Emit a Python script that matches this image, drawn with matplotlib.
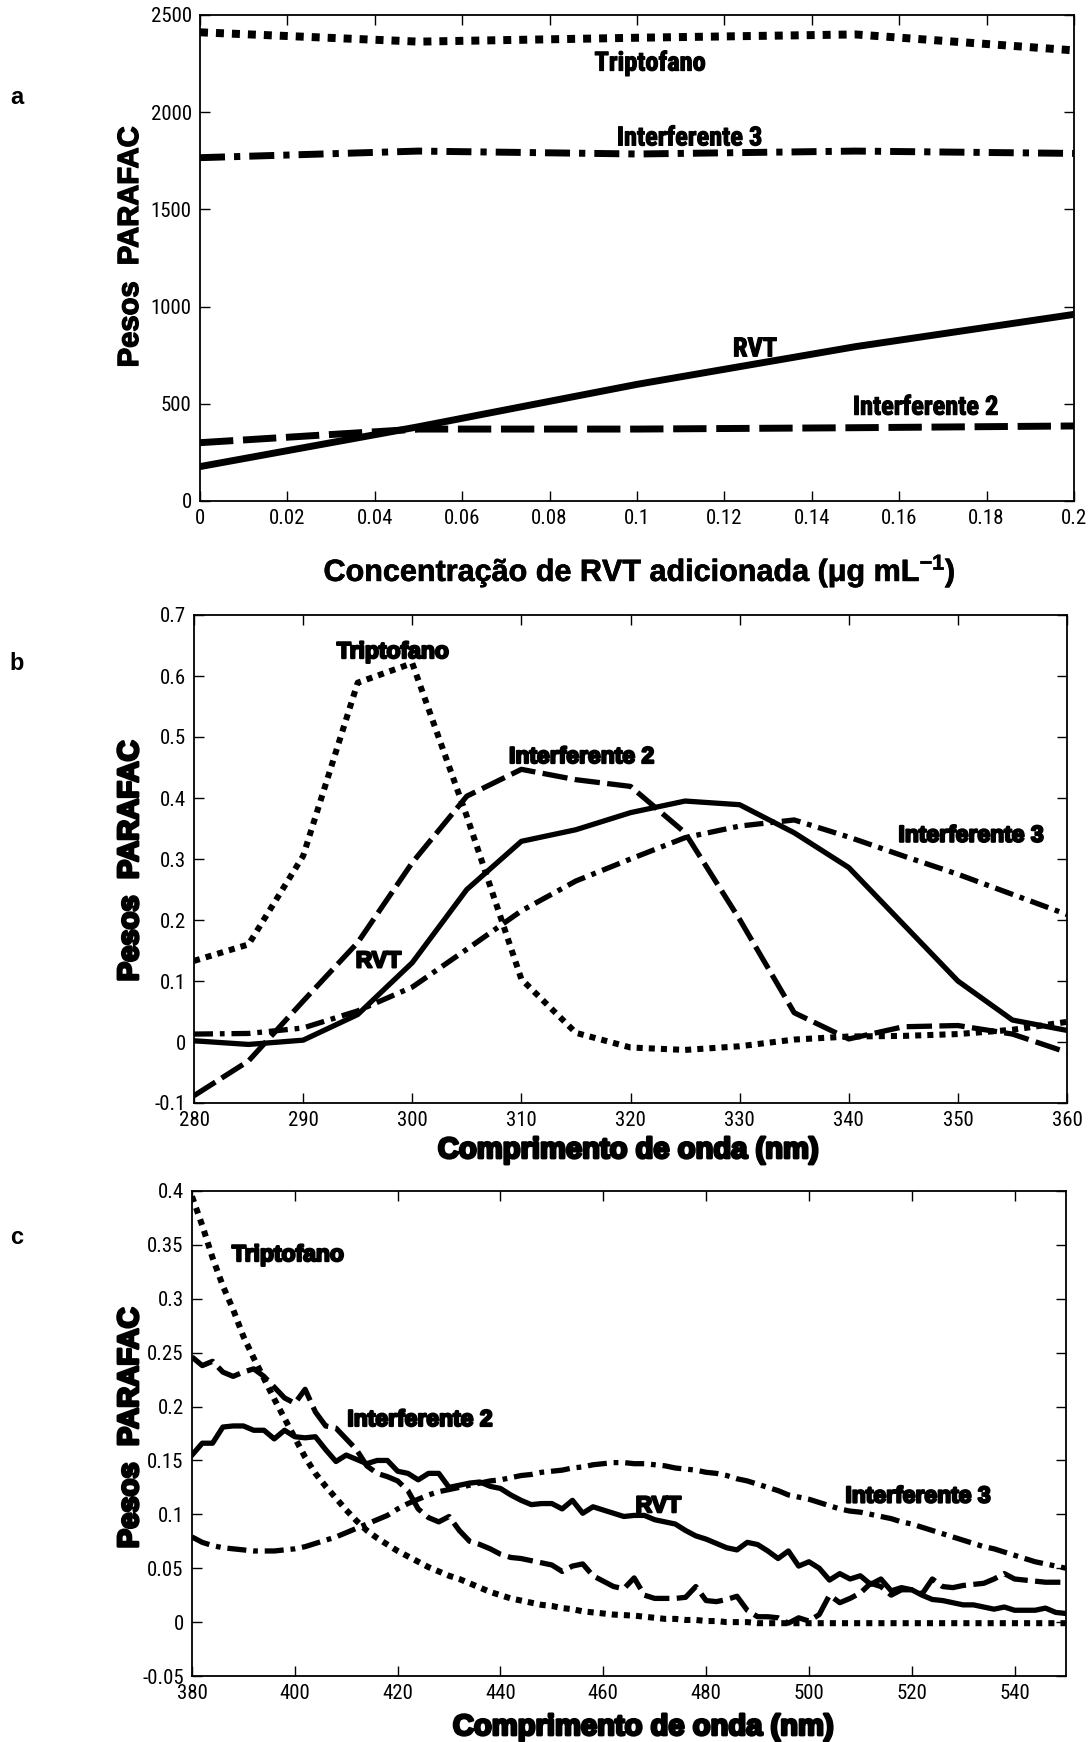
import matplotlib
matplotlib.use('Agg')
import matplotlib.pyplot as plt
import matplotlib.patheffects as pe
from matplotlib import font_manager
from matplotlib.font_manager import FontProperties
from matplotlib.ticker import FuncFormatter, MultipleLocator


def pick(fams):
    for f in fams:
        try:
            font_manager.findfont(FontProperties(family=f), fallback_to_default=False)
            return f
        except Exception:
            pass
    return 'DejaVu Sans'


narrow = pick(['Liberation Sans Narrow', 'Roboto Condensed', 'Liberation Sans'])
arial = pick(['Liberation Sans', 'DejaVu Sans'])

plt.rcParams['axes.unicode_minus'] = False
plt.rcParams['mathtext.fontset'] = 'custom'
plt.rcParams['mathtext.rm'] = arial + ':bold'
plt.rcParams['mathtext.it'] = arial + ':bold'
plt.rcParams['mathtext.bf'] = arial + ':bold'

# panel a: PARAFAC weights vs added RVT concentration
conc = [0, 0.05, 0.10, 0.15, 0.20]
a_tript = [2411, 2363, 2383, 2400, 2318]
a_int3 = [1766, 1800, 1785, 1800, 1788]
a_rvt = [177, 382, 600, 794, 960]
a_int2 = [300, 370, 370, 377, 386]

# panel b: excitation loadings
wl_ex = [280, 285, 290, 295, 300, 305, 310, 315, 320, 325, 330, 335, 340,
         345, 350, 355, 360]
b_tript = [0.133, 0.160, 0.305, 0.589, 0.621, 0.370, 0.103, 0.015, -0.009,
           -0.013, -0.007, 0.004, 0.009, 0.010, 0.013, 0.020, 0.033]
b_int2 = [-0.088, -0.031, 0.067, 0.163, 0.294, 0.403, 0.447, 0.430, 0.419,
          0.343, 0.201, 0.048, 0.005, 0.025, 0.027, 0.013, -0.017]
b_rvt = [0.002, -0.004, 0.003, 0.045, 0.130, 0.250, 0.329, 0.348, 0.376,
         0.395, 0.389, 0.343, 0.286, 0.193, 0.100, 0.036, 0.019]
b_int3 = [0.013, 0.014, 0.023, 0.051, 0.090, 0.152, 0.215, 0.264, 0.300,
          0.335, 0.354, 0.364, 0.336, 0.305, 0.275, 0.242, 0.209]

# panel c: emission loadings (2 nm step)
wl_em = list(range(380, 551, 2))
c_rvt = [0.155, 0.166, 0.166, 0.181, 0.182, 0.182, 0.178, 0.178, 0.170, 0.178,
         0.172, 0.171, 0.172, 0.160, 0.149, 0.155, 0.151, 0.147, 0.150, 0.150,
         0.140, 0.138, 0.132, 0.138, 0.138, 0.125, 0.127, 0.129, 0.130, 0.126,
         0.124, 0.118, 0.113, 0.109, 0.110, 0.110, 0.105, 0.113, 0.101, 0.107,
         0.104, 0.101, 0.098, 0.099, 0.099, 0.095, 0.093, 0.091, 0.085, 0.080,
         0.077, 0.073, 0.069, 0.067, 0.074, 0.072, 0.066, 0.059, 0.066, 0.052,
         0.056, 0.050, 0.039, 0.045, 0.040, 0.043, 0.035, 0.040, 0.029, 0.032,
         0.030, 0.025, 0.021, 0.020, 0.018, 0.016, 0.016, 0.014, 0.012, 0.014,
         0.011, 0.011, 0.011, 0.013, 0.009, 0.008]
c_int2 = [0.246, 0.238, 0.242, 0.232, 0.228, 0.232, 0.235, 0.228, 0.218, 0.208,
          0.203, 0.216, 0.195, 0.182, 0.180, 0.170, 0.160, 0.145, 0.138, 0.135,
          0.131, 0.122, 0.105, 0.097, 0.093, 0.098, 0.085, 0.075, 0.072, 0.068,
          0.063, 0.060, 0.059, 0.057, 0.055, 0.053, 0.047, 0.052, 0.054, 0.043,
          0.038, 0.033, 0.031, 0.041, 0.025, 0.022, 0.022, 0.022, 0.023, 0.033,
          0.020, 0.019, 0.021, 0.024, 0.011, 0.005, 0.005, 0.004, -0.001, 0.004,
          0.001, 0.007, 0.025, 0.018, 0.022, 0.027, 0.036, 0.033, 0.025, 0.030,
          0.030, 0.026, 0.040, 0.033, 0.032, 0.034, 0.035, 0.036, 0.040, 0.045,
          0.040, 0.039, 0.038, 0.037, 0.037, 0.037]
c_tript = [0.395, 0.368, 0.338, 0.312, 0.290, 0.265, 0.245, 0.226, 0.207, 0.189,
           0.171, 0.153, 0.138, 0.126, 0.115, 0.104, 0.094, 0.085, 0.078, 0.072,
           0.066, 0.061, 0.056, 0.051, 0.047, 0.043, 0.040, 0.036, 0.032, 0.028,
           0.025, 0.022, 0.020, 0.018, 0.016, 0.015, 0.013, 0.012, 0.010, 0.009,
           0.008, 0.007, 0.0065, 0.006, 0.005, 0.004, 0.003, 0.003, 0.002, 0.002,
           0.001, 0.001, 0.000, 0.000, 0.000, -0.001, -0.001, -0.001, -0.001, -0.001,
           -0.001, -0.001, -0.001, -0.001, -0.001, -0.001, -0.001, -0.001, -0.001, -0.001,
           -0.001, -0.001, -0.001, -0.001, -0.001, -0.001, -0.001, -0.001, -0.001, -0.001,
           -0.001, -0.001, -0.001, -0.001, -0.001, -0.001]
c_int3 = [0.079, 0.074, 0.071, 0.069, 0.068, 0.067, 0.066, 0.066, 0.066, 0.067,
          0.068, 0.070, 0.073, 0.076, 0.079, 0.083, 0.087, 0.091, 0.095, 0.099,
          0.105, 0.110, 0.114, 0.118, 0.121, 0.123, 0.125, 0.127, 0.129, 0.131,
          0.132, 0.134, 0.136, 0.137, 0.139, 0.140, 0.141, 0.143, 0.144, 0.146,
          0.147, 0.148, 0.148, 0.147, 0.147, 0.146, 0.145, 0.143, 0.142, 0.141,
          0.139, 0.138, 0.136, 0.133, 0.131, 0.128, 0.125, 0.122, 0.118, 0.116,
          0.114, 0.111, 0.108, 0.105, 0.103, 0.102, 0.100, 0.098, 0.096, 0.093,
          0.091, 0.088, 0.085, 0.082, 0.079, 0.076, 0.073, 0.070, 0.068, 0.065,
          0.062, 0.059, 0.056, 0.054, 0.052, 0.050]

DOT = (1.0, 1.0)
DASH = (4.8, 1.4)
DASHDOT = (3.6, 1.3, 0.9, 1.3)

fig = plt.figure(figsize=(10.91, 17.42), dpi=100)
W, H = 1091.0, 1742.0


def axes_px(l, t, r, b):
    return fig.add_axes([l / W, 1 - b / H, (r - l) / W, (b - t) / H])


def fat(w):
    # thicken bold glyphs so they read like a black weight
    return [pe.withStroke(linewidth=w, foreground='black')]


def style(ax):
    ax.tick_params(direction='in', top=True, right=True, length=7, width=1,
                   labelsize=15, pad=6)
    for lab in ax.get_xticklabels() + ax.get_yticklabels():
        lab.set_family(narrow)
    for s in ax.spines.values():
        s.set_linewidth(1.3)
    ax.xaxis.set_major_formatter(FuncFormatter(lambda v, p: '%g' % round(v, 6)))
    ax.yaxis.set_major_formatter(FuncFormatter(lambda v, p: '%g' % round(v, 6)))


def curves(ax, x, tr, i2, rv, i3, lw):
    ax.plot(x, tr, color='black', lw=lw * 1.15, dashes=DOT)
    ax.plot(x, i3, color='black', lw=lw, dashes=DASHDOT)
    ax.plot(x, i2, color='black', lw=lw, dashes=DASH)
    ax.plot(x, rv, color='black', lw=lw, solid_joinstyle='round')


# ---- panel a
ax1 = axes_px(200, 15, 1074, 501)
curves(ax1, conc, a_tript, a_int2, a_rvt, a_int3, 5)
ax1.set_xlim(0, 0.2)
ax1.set_ylim(0, 2500)
ax1.xaxis.set_major_locator(MultipleLocator(0.02))
ax1.yaxis.set_major_locator(MultipleLocator(500))
style(ax1)
lab_a = dict(family=narrow, weight='bold', fontsize=19, ha='center', va='center',
             path_effects=fat(0.8))
ax1.text(0.103, 2250, 'Triptofano', **lab_a)
ax1.text(0.112, 1865, 'Interferente 3', **lab_a)
ax1.text(0.127, 780, 'RVT', **lab_a)
ax1.text(0.166, 480, 'Interferente 2', **lab_a)

# ---- panel b
ax2 = axes_px(194, 615, 1067, 1103)
curves(ax2, wl_ex, b_tript, b_int2, b_rvt, b_int3, 3.8)
ax2.set_xlim(280, 360)
ax2.set_ylim(-0.1, 0.7)
ax2.xaxis.set_major_locator(MultipleLocator(10))
ax2.yaxis.set_major_locator(MultipleLocator(0.1))
style(ax2)
lab_b = dict(family=arial, weight='bold', fontsize=16.5, ha='center',
             va='center', path_effects=fat(1.6))
ax2.text(298.2, 0.640, 'Triptofano', **lab_b)
ax2.text(315.5, 0.468, 'Interferente 2', **lab_b)
ax2.text(351.2, 0.339, 'Interferente 3', **lab_b)
ax2.text(296.9, 0.133, 'RVT', **lab_b)

# ---- panel c
ax3 = axes_px(192, 1191, 1066, 1676)
curves(ax3, wl_em, c_tript, c_int2, c_rvt, c_int3, 3.8)
ax3.set_xlim(380, 550)
ax3.set_ylim(-0.05, 0.4)
ax3.xaxis.set_major_locator(MultipleLocator(20))
ax3.yaxis.set_major_locator(MultipleLocator(0.05))
style(ax3)
ax3.text(398.6, 0.341, 'Triptofano', **lab_b)
ax3.text(424.3, 0.188, 'Interferente 2', **lab_b)
ax3.text(470.7, 0.108, 'RVT', **lab_b)
ax3.text(521.2, 0.117, 'Interferente 3', **lab_b)

# axis titles and panel letters
fig.text(639 / W, 1 - 571 / H, 'Concentração de RVT adicionada (μg mL$^{-1}$)',
         family=arial, weight='bold', fontsize=22, ha='center', va='center',
         path_effects=fat(0.5))
title_b = dict(family=arial, weight='bold', fontsize=21, ha='center', va='center',
               path_effects=fat(2.0))
fig.text(628 / W, 1 - 1150 / H, 'Comprimento de onda (nm)', **title_b)
fig.text(643 / W, 1 - 1727 / H, 'Comprimento de onda (nm)', **title_b)
fig.text(130 / W, 1 - 247 / H, 'Pesos  PARAFAC', family=arial, weight='bold',
         fontsize=21, rotation=90, ha='center', va='center', path_effects=fat(1.0))
for yc in (861, 1428):
    fig.text(130 / W, 1 - yc / H, 'Pesos  PARAFAC', rotation=90, **title_b)
for letter, yc in (('a', 98), ('b', 664), ('c', 1237)):
    fig.text(17 / W, 1 - yc / H, letter, family=arial, weight='bold',
             fontsize=17, ha='center', va='center')

fig.savefig('out.png', dpi=100)
